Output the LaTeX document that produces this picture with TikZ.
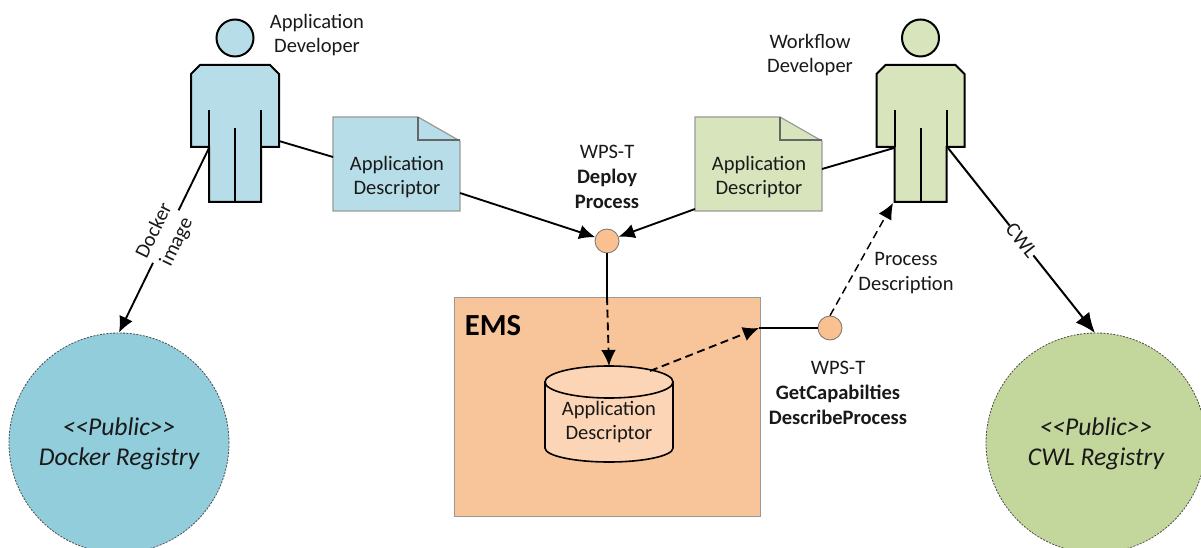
\documentclass[tikz,border=0pt]{standalone}
\usepackage{fontspec}
\setmainfont{Carlito}
\usetikzlibrary{arrows.meta}
\definecolor{blueL}{HTML}{B7DDE8}
\definecolor{blueD}{HTML}{92CDDC}
\definecolor{greenL}{HTML}{D7E4BC}
\definecolor{greenD}{HTML}{C3D69B}
\definecolor{orangeL}{HTML}{FAC090}
\definecolor{orangeM}{HTML}{F8C49A}
\definecolor{orangeP}{HTML}{FBD5B5}
\tikzset{
  x=0.75pt,y=-0.75pt,
  txt/.style={font=\fontsize{15.4}{18.7}\selectfont,align=center,inner sep=0pt,text=black!90},
  regtxt/.style={font=\fontsize{19.2}{22.5}\selectfont\itshape,align=center,inner sep=0pt,text=black!90},
  person/.style={draw=black,line width=1.5pt,line join=miter},
  notebox/.style={draw=black!40,line width=.9pt},
  conn/.style={draw=black,line width=1.4pt},
  tip/.style={-{Latex[length=12pt,width=11pt]}},
  bigtip/.style={-{Latex[length=15pt,width=13pt]}},
  dashline/.style={dash pattern=on 6pt off 3.5pt},
  port/.style={circle,draw=black!55,fill=orangeL,minimum size=18pt,inner sep=0pt,line width=.6pt},
  registry/.style={circle,draw=black!70,dash pattern=on 1.5pt off 1pt,line width=.6pt,minimum size=165pt,inner sep=0pt},
}
\newcommand{\drawperson}[2]{%
 \begin{scope}[shift={(#1,0)}]
  \draw[person,fill=#2] (0,38) circle[radius=18.5];
  \draw[person,fill=#2] (-35,65) -- (35,65) -- (44,74) -- (44,147) -- (26,147) -- (26,202) -- (-26,202) -- (-26,147) -- (-44,147) -- (-44,74) -- cycle;
  \draw[person] (-26,110) -- (-26,147) (26,110) -- (26,147) (0,128) -- (0,202);
 \end{scope}}
\newcommand{\drawnote}[2]{%
 \begin{scope}[shift={(#1,0)}]
  \draw[notebox,fill=#2] (0,117) -- (85,117) -- (127,141) -- (127,211) -- (0,211) -- cycle;
  \draw[draw=black!60,line width=.8pt] (85,117) -- (85,140) -- (127,140);
 \end{scope}}
\begin{document}
\begin{tikzpicture}
\useasboundingbox (0,0) rectangle (1201,548);
\begin{scope}
\clip (0,0) rectangle (1201,548);
\node[registry,fill=blueD] (dockerreg) at (119,443) {};
\node[registry,fill=greenD] (cwlreg) at (1096,443) {};
\end{scope}
\node[regtxt] (dockertxt) at (119,443.5) {{<}{<}Public{>}{>}\\Docker Registry};
\node[regtxt] (cwltxt) at (1096,443.5) {{<}{<}Public{>}{>}\\CWL Registry};
\draw[draw=black!40,fill=orangeM,line width=.7pt] (454,297) rectangle (760,516);
\node[font=\fontsize{23}{26}\selectfont\bfseries,inner sep=0pt] (ems) at (493,326) {EMS};

% cylinder
\draw[line width=1.2pt,fill=orangeP] (545,382) -- (545,448) arc[start angle=180,end angle=0,x radius=64,y radius=14] -- (673,382) -- cycle;
\draw[line width=1.2pt,fill=orangeP] (609,382) ellipse[x radius=64,y radius=16];
\node[txt] (cyl) at (609,422) {Application\\Descriptor};

\drawperson{235}{blueL}
\drawperson{920.5}{greenL}
\drawnote{333}{blueL}
\drawnote{695}{greenL}
\node[txt] (n1) at (397,177) {Application\\Descriptor};
\node[txt] (n2) at (759,177) {Application\\Descriptor};
\node[txt] (lad) at (317,35) {Application\\Developer};
\node[txt] (lwd) at (810,55) {Workflow\\Developer};
\node[txt] (lwps) at (607,177) {WPS-T\\\textbf{Deploy}\\\textbf{Process}};
\node[txt] (lwps2) at (838,393) {WPS-T\\\textbf{GetCapabilties}\\\textbf{DescribeProcess}};
\node[txt] (lpd) at (906,273) {Process\\Description};

\node[port] (c1) at (607,241) {};
\node[port] (c2) at (830,328) {};

\coordinate (p1r) at (279,141);
\coordinate (p1l) at (209,148);
\coordinate (n1l) at (333,157);
\coordinate (n1r) at (460,193);
\coordinate (n2l) at (695,209);
\coordinate (n2r) at (822,169);
\coordinate (p2l) at (894,148);
\coordinate (p2r) at (948,148);
\coordinate (p2b) at (893,203);
\coordinate (emstop) at (607,297);
\coordinate (cyltop) at (609,366);
\coordinate (cylr) at (650,371);
\coordinate (emsr) at (759,328);
\coordinate (cwltop) at (1095,333);

\draw[conn] (p1r) -- (n1l);
\draw[conn,tip] (n1r) -- (c1);
\draw[conn,tip] (n2l) -- (c1);
\draw[conn] (n2r) -- (p2l);
\draw[conn] (c1) -- (emstop);
\draw[conn,tip,dashline] (emstop) -- (cyltop);
\draw[conn,tip,dashline] (cylr) -- (emsr);
\draw[conn] (emsr) -- (c2);
\draw[conn,tip,line width=1.1pt,dashline] (c2.north) -- (p2b);
\draw[conn,tip] (p1l) -- (dockerreg.north)
  node[pos=.48,sloped,fill=white,inner sep=1pt,txt] (ldock) {Docker\\image};
\draw[conn,bigtip,line width=1.5pt] (p2r) -- (cwltop)
  node[pos=.5,sloped,fill=white,inner sep=1pt,txt] (lcwl) {CWL};
\end{tikzpicture}
\end{document}
